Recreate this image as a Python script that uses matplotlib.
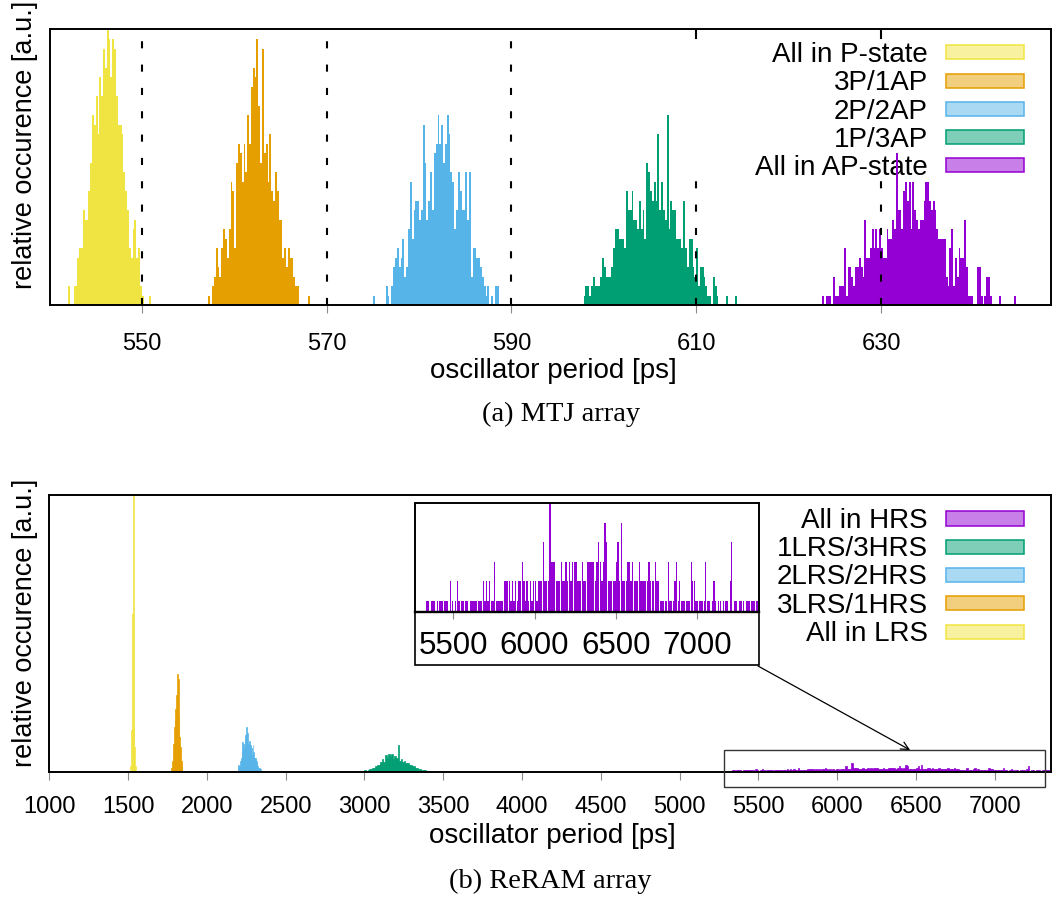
import numpy as np
import matplotlib
matplotlib.use("Agg")
import matplotlib.pyplot as plt
from matplotlib.patches import Rectangle

# ------------------------------------------------------------------
# Data (histogram counts per bin)
# ------------------------------------------------------------------
# (a) MTJ array, bins of 0.2 ps
mtj_labels = ["All in P-state", "3P/1AP", "2P/2AP", "1P/3AP", "All in AP-state"]
mtj_bin = 0.2
mtj_p_start = 542.0
mtj_p = [2, 0, 0, 2, 2, 5, 6, 6, 10, 9, 9, 12, 15, 20, 19, 22, 18, 24, 22, 27,
         25, 29, 28, 24, 28, 27, 22, 19, 19, 18, 14, 12, 10, 6, 5, 8, 9, 5, 6, 2,
         1, 0, 0, 0, 1]
mtj_3p1ap_start = 557.2
mtj_3p1ap = [1, 0, 2, 3, 6, 4, 3, 6, 8, 7, 5, 8, 13, 12, 6, 15, 17, 16, 13, 17,
             14, 20, 17, 23, 25, 24, 28, 21, 15, 27, 16, 17, 13, 18, 12, 11, 14, 12, 9, 9,
             5, 6, 4, 6, 5, 5, 3, 2, 2, 0, 0, 0, 0, 0, 1]
mtj_2p2ap_start = 575.0
mtj_2p2ap = [1, 0, 0, 0, 0, 0, 0, 2, 1, 0, 2, 4, 5, 6, 4, 5, 7, 3, 4, 8,
             13, 7, 10, 11, 11, 9, 10, 19, 15, 9, 11, 14, 10, 16, 17, 20, 17, 19, 15, 17,
             20, 18, 14, 13, 8, 10, 14, 12, 10, 10, 14, 9, 14, 3, 6, 6, 5, 5, 4, 3,
             2, 1, 2, 0, 1, 0, 2, 2]
mtj_1p3ap_start = 597.8
mtj_1p3ap = [1, 2, 2, 1, 2, 3, 2, 2, 2, 3, 5, 4, 3, 3, 3, 4, 6, 8, 8, 7,
             7, 7, 6, 12, 10, 10, 12, 9, 9, 8, 11, 8, 10, 7, 15, 14, 12, 11, 13, 11,
             18, 10, 13, 10, 9, 20, 8, 11, 10, 10, 7, 7, 7, 6, 11, 6, 4, 7, 7, 4,
             3, 6, 2, 4, 4, 3, 2, 1, 1, 0, 3, 2, 1, 0, 0, 0, 0, 1, 0, 0,
             0, 0, 1]
mtj_ap_start = 623.6
mtj_ap = [1, 0, 1, 1, 1, 0, 3, 1, 1, 2, 2, 2, 6, 1, 4, 4, 3, 2, 4, 4,
          5, 4, 3, 9, 5, 5, 6, 8, 6, 8, 6, 8, 6, 5, 5, 8, 7, 7, 9, 8,
          16, 10, 10, 8, 12, 13, 11, 13, 8, 13, 10, 9, 8, 9, 9, 11, 13, 13, 11, 10,
          11, 10, 8, 7, 7, 7, 7, 3, 2, 6, 8, 2, 5, 3, 6, 5, 5, 9, 4, 1,
          1, 1, 0, 0, 4, 4, 1, 0, 1, 3, 3, 1, 0, 0, 0, 0, 1, 0, 0, 0,
          0, 0, 0, 0, 1]
mtj_ticks = [550, 570, 590, 610, 630]

# (b) ReRAM array
rr_labels = ["All in LRS", "3LRS/1HRS", "2LRS/2HRS", "1LRS/3HRS", "All in HRS"]
rr_lrs_start, rr_lrs_bin = 1515, 5
rr_lrs = [4, 30, 113, 198, 31, 18, 4]
rr_3l1h_start, rr_3l1h_bin = 1775, 5
rr_3l1h = [3, 8, 20, 32, 38, 45, 55, 70, 66, 40, 25, 18, 8, 4]
rr_2l2h_start, rr_2l2h_bin = 2195, 5
rr_2l2h = [3, 5, 4, 8, 10, 15, 21, 20, 17, 22, 26, 32, 28, 20, 16, 22, 19, 17, 12, 19,
           14, 10, 10, 8, 6, 4, 3, 3, 2, 2]
rr_1l3h_start, rr_1l3h_bin = 3000, 10
rr_1l3h = [1, 0, 1, 2, 2, 3, 3, 4, 5, 5, 7, 9, 7, 12, 10, 13, 11, 13, 9, 11,
           10, 19, 8, 9, 7, 8, 6, 6, 5, 5, 4, 4, 3, 3, 2, 2, 1, 1, 1]
rr_hrs_start, rr_hrs_bin = 5330, 10
rr_hrs = [1, 1, 0, 1, 1, 1, 0, 1, 1, 1,
          1, 1, 1, 1, 0, 2, 1, 0, 1, 2,
          1, 0, 1, 1, 1, 1, 0, 1, 1, 1,
          1, 1, 1, 1, 1, 2, 1, 2, 1, 2,
          1, 1, 3, 1, 1, 1, 1, 1, 2, 2,
          2, 2, 1, 2, 1, 2, 1, 2, 2, 3,
          2, 1, 2, 1, 2, 1, 2, 2, 1, 2,
          2, 2, 4, 2, 2, 2, 6, 3, 3, 3,
          2, 2, 2, 3, 2, 2, 3, 2, 3, 2,
          3, 3, 3, 2, 2, 2, 3, 2, 2, 3,
          3, 3, 3, 3, 2, 3, 4, 3, 2, 3,
          5, 4, 2, 2, 2, 2, 2, 3, 4, 2,
          5, 2, 2, 2, 3, 3, 2, 3, 2, 2,
          2, 3, 2, 2, 2, 2, 2, 3, 2, 2,
          2, 3, 2, 2, 1, 1, 1, 1, 1, 3,
          1, 1, 1, 2, 3, 1, 2, 1, 1, 1,
          1, 1, 1, 3, 2, 2, 1, 1, 1, 1,
          1, 1, 3, 1, 1, 0, 1, 2, 1, 0,
          1, 1, 0, 1, 1, 1, 0, 2, 4, 0,
          1, 1, 0, 1, 1, 1, 0, 1, 1, 1, 1, 1, 1, 1, 1]
rr_ticks = list(range(1000, 7001, 500))
inset_ticks = [5500, 6000, 6500, 7000]

colors = ["#f0e442", "#e69f00", "#56b4e9", "#009e73", "#9400d3"]

# ------------------------------------------------------------------
W, H = 1054, 898
plt.rcParams["font.family"] = ["Liberation Sans", "DejaVu Sans"]
fig = plt.figure(figsize=(W / 100, H / 100), dpi=100)


def px_axes(l, t, r, b):
    return fig.add_axes([l / W, 1 - b / H, (r - l) / W, (b - t) / H])


def fx(x):
    return x / W


def fy(y):
    return 1 - y / H


def style_axes(ax, lw=1.4, ticksize=17, pad=11, ticklen=5.8):
    for s in ax.spines.values():
        s.set_linewidth(lw)
    ax.tick_params(axis="x", direction="out", length=ticklen, width=0.8,
                   color="#8a8a8a", labelsize=ticksize, pad=pad, top=False)
    ax.tick_params(axis="y", left=False, labelleft=False, right=False)


def draw_hist(ax, start, binw, counts, color, z=2, frac=1.0, edge=0.0):
    counts = np.asarray(counts, dtype=float)
    x = start + binw * np.arange(len(counts))
    ax.bar(x, counts, width=binw * frac, align="edge", color=color,
           edgecolor=color, linewidth=edge, zorder=z)


def draw_key(ax, labels, cols, centers, fs, base_off):
    for lab, col, cy in zip(labels, cols, centers):
        ax.text(fx(928), fy(cy + base_off), lab, transform=fig.transFigure,
                ha="right", va="baseline", fontsize=fs, zorder=1)
        ax.add_patch(Rectangle((fx(946), fy(cy + 7)), fx(1024) - fx(946),
                               fy(cy - 7) - fy(cy + 7), transform=fig.transFigure,
                               facecolor=col, alpha=0.5, linewidth=0,
                               zorder=1, clip_on=False))
        ax.add_patch(Rectangle((fx(946), fy(cy + 7)), fx(1024) - fx(946),
                               fy(cy - 7) - fy(cy + 7), transform=fig.transFigure,
                               facecolor="none", edgecolor=col, linewidth=1.1,
                               zorder=1, clip_on=False))


# ---------------- (a) MTJ array ----------------
ax1 = px_axes(49.5, 28.7, 1051, 305)
style_axes(ax1, ticksize=17, pad=14.5)
ax1.set_xlim(540, 648.4)
ax1.set_ylim(0, 29.1)
ax1.set_xticks(mtj_ticks)
mtj_series = [(mtj_p_start, mtj_p), (mtj_3p1ap_start, mtj_3p1ap),
              (mtj_2p2ap_start, mtj_2p2ap), (mtj_1p3ap_start, mtj_1p3ap),
              (mtj_ap_start, mtj_ap)]
for (st, cnt), c in zip(mtj_series, colors):
    draw_hist(ax1, st, mtj_bin, cnt, c)

# dashed grid lines; hidden behind the (opaque) key area
key_x0 = 599.0
key_ylo, key_yhi = 0.449, 0.966
for t in mtj_ticks:
    if t > key_x0:
        ax1.axvline(t, 0, key_ylo, color="black", lw=1.5, ls=(0, (3.4, 7.8)), zorder=3)
        ax1.axvline(t, key_yhi, 0.99, color="black", lw=1.5, zorder=3)
    else:
        ax1.axvline(t, 0, 1, color="black", lw=1.5, ls=(0, (3.4, 7.8)), zorder=3)

draw_key(ax1, mtj_labels, colors, [52.3, 80.7, 109.0, 137.3, 165.3], 20, 9.8)

fig.text(fx(25), fy(289), "relative occurence [a.u.]", rotation=90,
         ha="center", va="bottom", fontsize=19.5)
fig.text(fx(553), fy(378), "oscillator period [ps]", ha="center",
         va="baseline", fontsize=20)
fig.text(fx(561), fy(421), "(a) MTJ array", ha="center", va="baseline",
         fontsize=20.5, family=["Liberation Serif", "DejaVu Serif"])

# ---------------- (b) ReRAM array ----------------
ax2 = px_axes(49.3, 495, 1051, 771.7)
style_axes(ax2, ticksize=17, pad=11.5)
ax2.set_xlim(1000, 7357)
ax2.set_ylim(0, 198)
ax2.set_xticks(rr_ticks)
rr_series = [(rr_lrs_start, rr_lrs_bin, rr_lrs), (rr_3l1h_start, rr_3l1h_bin, rr_3l1h),
             (rr_2l2h_start, rr_2l2h_bin, rr_2l2h), (rr_1l3h_start, rr_1l3h_bin, rr_1l3h),
             (rr_hrs_start, rr_hrs_bin, rr_hrs)]
for (st, bw, cnt), c in zip(rr_series, colors):
    draw_hist(ax2, st, bw, cnt, c, edge=0.5)

# zoom rectangle around the HRS distribution
ax2.add_patch(Rectangle((5284, -11.2), 7319 - 5284, 26.7, fill=False,
                        edgecolor="#333333", linewidth=1.0, clip_on=False, zorder=4))

draw_key(ax2, rr_labels[::-1], colors[::-1], [518.5, 546.8, 575.1, 603.4, 631.7], 20, 9.2)

fig.text(fx(25), fy(767), "relative occurence [a.u.]", rotation=90,
         ha="center", va="bottom", fontsize=19.5)
fig.text(fx(552), fy(843), "oscillator period [ps]", ha="center",
         va="baseline", fontsize=20)
fig.text(fx(550), fy(888), "(b) ReRAM array", ha="center", va="baseline",
         fontsize=20.5, family=["Liberation Serif", "DejaVu Serif"])

# inset
axi = px_axes(415, 503.3, 759.3, 612.3)
for s in ["left", "right", "top"]:
    axi.spines[s].set_linewidth(1.2)
axi.spines["bottom"].set_linewidth(1.7)
axi.tick_params(axis="x", direction="out", length=5, width=0.8, color="#8a8a8a",
                labelsize=22.5, pad=8.5, top=False)
axi.tick_params(axis="y", left=False, labelleft=False)
axi.set_xlim(5264, 7383)
axi.set_ylim(0.4, 6.0)
axi.set_xticks(inset_ticks)
draw_hist(axi, rr_hrs_start, rr_hrs_bin, rr_hrs, colors[4], frac=0.8)

frame = Rectangle((fx(415), fy(665)), fx(759.3) - fx(415), fy(503.3) - fy(665),
                  transform=fig.transFigure, fill=False, edgecolor="black",
                  linewidth=1.2, zorder=5)
fig.add_artist(frame)

ax2.annotate("", xy=(6463, 15.5), xycoords="data",
             xytext=(fx(758), fy(666)), textcoords="figure fraction",
             arrowprops=dict(arrowstyle="->", color="black", lw=0.9,
                             shrinkA=0, shrinkB=0, mutation_scale=14),
             zorder=6, annotation_clip=False)

fig.savefig("out.png", dpi=100)
